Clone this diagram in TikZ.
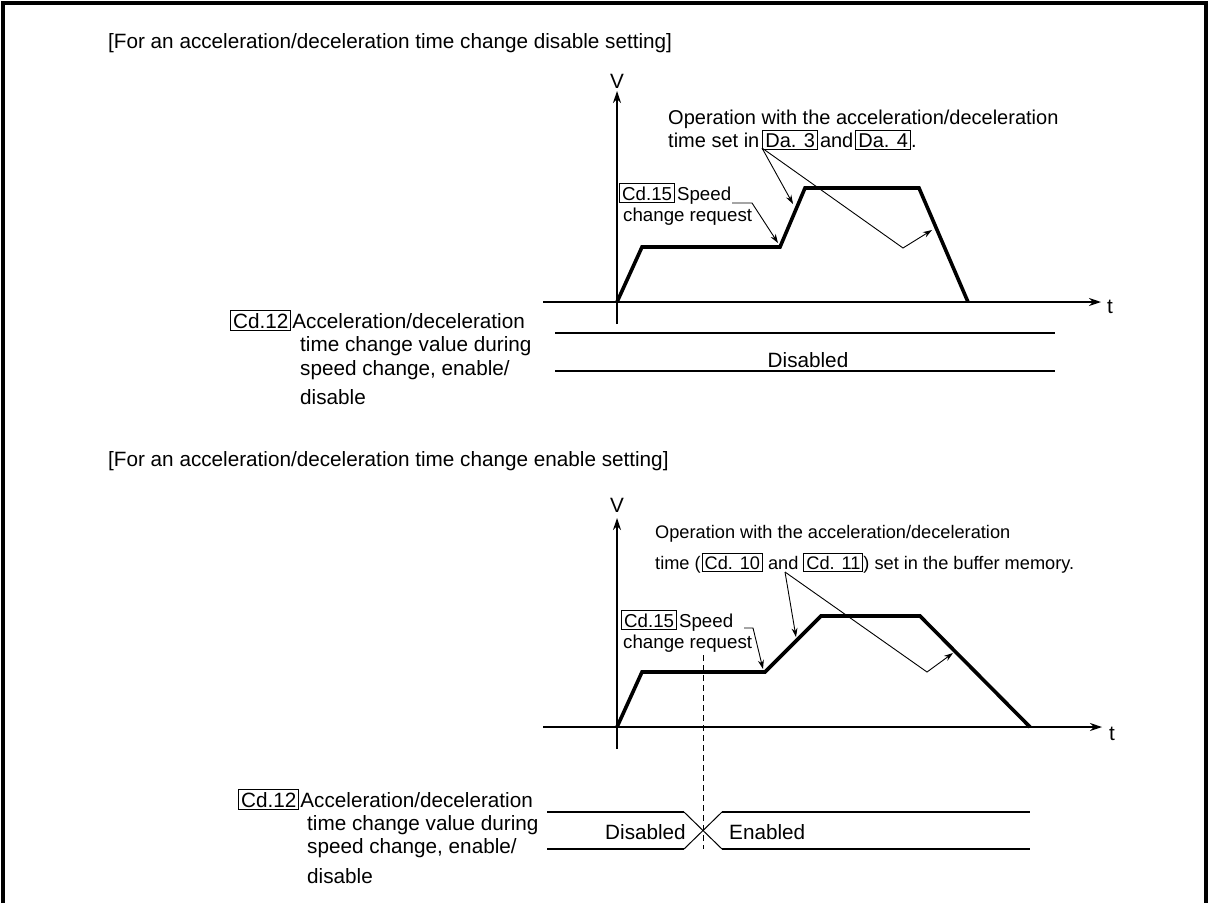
\documentclass[tikz,border=0pt]{standalone}
\usepackage{fontspec}
\setmainfont{Liberation Sans}
\usetikzlibrary{arrows.meta}
\newcommand{\tagbox}[1]{{\setlength{\fboxsep}{2pt}\setlength{\fboxrule}{1pt}\fbox{#1}}}
\tikzset{
  lbl/.style={inner sep=0pt, anchor=base west, font=\fontsize{20.7}{24}\selectfont},
  axisline/.style={line width=1.3pt, -{Stealth[length=12pt,width=8pt]}},
  profile/.style={line width=3.6pt, line join=miter},
  lvline/.style={line width=2.2pt},
  leader/.style={line width=0.9pt, -{Stealth[length=9pt,width=6pt]}},
}
\begin{document}
\begin{tikzpicture}[x=1pt,y=-1pt]
    \useasboundingbox (0,0) rectangle (1214,903);
    \draw[line width=4.5pt] (3,903) -- (3,3) -- (1206,3) -- (1206,903);
    \begin{scope}
        \node[lbl] (ta) at (108,48) {[For an acceleration/deceleration time change disable setting]};
        \coordinate (Oa) at (617,302);
        \coordinate (Va) at (617,91);
        \coordinate (Ba) at (617,324);
        \coordinate (La) at (543,302);
        \coordinate (Ta) at (1101,302);
        \coordinate (P1a) at (642,247);
        \coordinate (P2a) at (780,247);
        \coordinate (P3a) at (805,188);
        \coordinate (P4a) at (919,188);
        \coordinate (P5a) at (968,302);
        \draw[axisline] (Ba)--(Va);
        \draw[axisline] (La)--(Ta);
        \node[lbl, anchor=base] (va) at (617,88) {V};
        \node[lbl] (ua) at (1107,313) {t};
        \draw[profile] (Oa)--(P1a)--(P2a)--(P3a)--(P4a)--(P5a);
        \node[lbl, font=\fontsize{20}{24}\selectfont] (opa1) at (668,124) {Operation with the acceleration/deceleration};
        \node[lbl, font=\fontsize{20}{24}\selectfont] (opa2) at (668,147) {time set in\kern3pt\tagbox{Da. 3}\kern2pt and\kern2pt\tagbox{Da. 4}.};
        \coordinate (Ra) at (762,148);
        \coordinate (R1a) at (793,204);
        \coordinate (Ca) at (903,248);
        \coordinate (R2a) at (932,230);
        \draw[leader] (Ra)--(R1a);
        \draw[leader] (Ra)--(Ca)--(R2a);
        \node[lbl, font=\fontsize{18.7}{22}\selectfont] (cda) at (619,200) {\tagbox{Cd.15}\kern2pt Speed};
        \node[lbl, font=\fontsize{18.7}{22}\selectfont] (cra) at (623,221) {change request};
        \coordinate (Sa) at (732,203);
        \coordinate (Ka) at (752,203);
        \coordinate (Aa) at (778,243);
        \draw[leader] (Sa)--(Ka)--(Aa);
        \coordinate (E1a) at (555,333);
        \coordinate (E2a) at (1055,333);
        \coordinate (E3a) at (555,371);
        \coordinate (E4a) at (1055,371);
        \draw[lvline] (E1a)--(E2a) (E3a)--(E4a);
        \node[lbl, anchor=base] (dia) at (808,367) {Disabled};
        \node[lbl] (la1) at (230,328) {\tagbox{Cd.12}\kern1pt Acceleration/deceleration};
        \node[lbl] (la2) at (300,351) {time change value during};
        \node[lbl] (la3) at (300,375) {speed change, enable/};
        \node[lbl] (la4) at (300,404) {disable};
    \end{scope}
    \begin{scope}
        \node[lbl] (tb) at (108,466) {[For an acceleration/deceleration time change enable setting]};
        \coordinate (Ob) at (617,727);
        \coordinate (Vb) at (617,518);
        \coordinate (Bb) at (617,749);
        \coordinate (Lb) at (543,727);
        \coordinate (Tb) at (1102,727);
        \coordinate (P1b) at (642,672);
        \coordinate (P2b) at (765,672);
        \coordinate (P3b) at (821,616);
        \coordinate (P4b) at (920,616);
        \coordinate (P5b) at (1030,727);
        \draw[axisline] (Bb)--(Vb);
        \draw[axisline] (Lb)--(Tb);
        \node[lbl, anchor=base] (vb) at (617,512) {V};
        \node[lbl] (ub) at (1109,740) {t};
        \draw[profile] (Ob)--(P1b)--(P2b)--(P3b)--(P4b)--(P5b);
        \node[lbl, font=\fontsize{18.2}{22}\selectfont] (opb1) at (655,538) {Operation with the acceleration/deceleration};
        \node[lbl, font=\fontsize{18.2}{22}\selectfont] (opb2) at (655,569) {time (\kern1pt\tagbox{Cd. 10} and \tagbox{Cd. 11}) set in the buffer memory.};
        \coordinate (Rb) at (785,572);
        \coordinate (R1b) at (796,637);
        \coordinate (Cb) at (927,672);
        \coordinate (R2b) at (953,653);
        \draw[leader] (Rb)--(R1b);
        \draw[leader] (Rb)--(Cb)--(R2b);
        \node[lbl, font=\fontsize{18.7}{22}\selectfont] (cdb) at (621,627) {\tagbox{Cd.15}\kern2pt Speed};
        \node[lbl, font=\fontsize{18.7}{22}\selectfont] (crb) at (623,648) {change request};
        \coordinate (Sb) at (744,628);
        \coordinate (Kb) at (753,628);
        \coordinate (Ab) at (763,669);
        \draw[leader] (Sb)--(Kb)--(Ab);
        \coordinate (Db) at (703,655);
        \coordinate (Eb) at (703,849);
        \draw[line width=1pt, dash pattern=on 6pt off 4pt] (Db)--(Eb);
        \coordinate (X1b) at (547,812);
        \coordinate (X2b) at (684,812);
        \coordinate (X3b) at (722,812);
        \coordinate (X4b) at (1030,812);
        \coordinate (Y1b) at (547,849);
        \coordinate (Y2b) at (684,849);
        \coordinate (Y3b) at (722,849);
        \coordinate (Y4b) at (1030,849);
        \draw[lvline] (X1b)--(X2b) (X3b)--(X4b) (Y1b)--(Y2b) (Y3b)--(Y4b);
        \draw[line width=1pt] (X2b)--(Y3b) (Y2b)--(X3b);
        \node[lbl] (dib) at (605,839) {Disabled};
        \node[lbl] (enb) at (729,839) {Enabled};
        \node[lbl] (lb1) at (238,807) {\tagbox{Cd.12}\kern1pt Acceleration/deceleration};
        \node[lbl] (lb2) at (307,830) {time change value during};
        \node[lbl] (lb3) at (307,853) {speed change, enable/};
        \node[lbl] (lb4) at (307,883) {disable};
    \end{scope}
\end{tikzpicture}
\end{document}
